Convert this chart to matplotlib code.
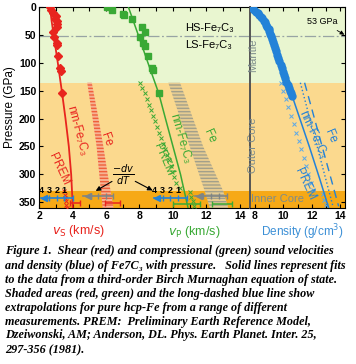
import matplotlib.pyplot as plt
from matplotlib.ticker import MultipleLocator

# --- colours -------------------------------------------------------------
RED = '#e8241e'
GREEN = '#3aa935'
BLUE = '#2382d8'
GRAY_TXT = '#7d8c8c'

# --- vs (red): measured points, fit, hcp-Fe band -------------------------
vs_p = [0, 6, 12, 17, 22, 25, 31, 37, 46, 55, 65, 69, 88, 110, 115, 155]
vs_val = [2.66, 2.72, 2.85, 3.0, 2.95, 3.06, 3.06, 3.1, 2.85, 2.9, 3.06, 3.1, 3.15, 3.25, 3.3, 3.37]
vs_fit_p = [0, 25, 50, 100, 155, 200, 250, 300, 360]
vs_fit = [2.65, 2.75, 2.87, 3.12, 3.38, 3.58, 3.78, 3.92, 4.02]
vs_fe_p = [136, 200, 250, 300, 360]
vs_fe_lo = [4.88, 5.2, 5.44, 5.6, 5.8]
vs_fe_hi = [5.15, 5.55, 5.84, 6.1, 6.45]
vs_prem_p = [330, 336, 342, 348, 354, 360]
vs_prem = [3.5, 3.53, 3.56, 3.6, 3.63, 3.66]

# --- vp (green) -----------------------------------------------------------
vp_p = [0, 6, 13, 15, 22, 37, 45, 55, 65, 71, 88, 110, 114, 155]
vp_val = [6.04, 6.34, 7.0, 7.1, 7.53, 8.13, 8.3, 8.03, 8.23, 8.3, 8.53, 8.77, 8.8, 9.16]
vp_fit_p = [0, 50, 100, 155, 200, 250, 300, 360]
vp_fit = [7.33, 7.92, 8.5, 9.15, 9.55, 10.0, 10.45, 10.9]
vp_fe_p = [136, 250, 330, 360]
vp_fe_lo = [9.72, 11.0, 11.9, 12.2]
vp_fe_hi = [10.42, 11.8, 13.0, 13.3]
vp_prem_p = [136, 145, 155, 165, 175, 185, 195, 205, 215, 225, 235, 245, 255,
             265, 275, 285, 295, 305, 315, 325, 332, 340, 348, 356]
vp_prem = [8.03, 8.16, 8.3, 8.44, 8.57, 8.7, 8.83, 8.95, 9.07, 9.19, 9.31, 9.42, 9.53,
           9.64, 9.75, 9.86, 9.97, 10.08, 10.2, 10.4, 11.03, 11.1, 11.17, 11.23]

# --- density (blue) -------------------------------------------------------
rho_p = [0, 3, 6, 9, 12, 15, 18, 21, 25, 28, 32, 36, 40, 44, 48, 53, 58, 63, 68, 74, 80, 86,
         92, 98, 104, 110, 116, 122, 128, 134, 140, 145, 150, 155, 160]
rho_val = [7.62, 7.78, 7.92, 8.06, 8.18, 8.3, 8.41, 8.5, 8.62, 8.7, 8.8, 8.88, 8.97, 9.02,
           9.08, 9.16, 9.23, 9.3, 9.35, 9.43, 9.5, 9.57, 9.64, 9.72, 9.8, 9.88, 9.96, 10.04,
           10.12, 10.2, 10.34, 10.42, 10.5, 10.57, 10.64]
rho_fit_p = [150, 167, 250, 309, 360]
rho_fit = [10.5, 10.72, 11.83, 12.58, 13.2]
rho_dot_p = [136, 357]
rho_dot = [11.2, 13.5]
rho_fe_p = [136, 357]
rho_fe = [11.5, 13.9]
rho_prem_p = [136, 150, 165, 180, 195, 210, 225, 240, 255, 270, 285, 300, 315, 328, 335, 345, 355]
rho_prem = [9.8, 9.98, 10.17, 10.36, 10.55, 10.73, 10.9, 11.08, 11.25, 11.43, 11.6, 11.77,
            11.95, 12.1, 12.78, 12.9, 13.02]

# --- -dv/dT scale bars and extrapolated error bars at the inner core -------
dvdt_vs = [2.12, 2.6, 3.06, 3.51, 4.05]
dvdt_vp = [8.87, 9.39, 9.82, 10.32, 10.82]
dvdt_labels = ['4', '3', '2', '1']
gray_vs = [4.65, 5.1, 5.55, 6.0, 6.44]
gray_vp = [11.31, 11.78, 12.25, 12.72, 13.2]
err_x = [4.15, 6.4, 10.8, 12.9]
err_w = [0.3, 0.45, 0.8, 0.6]
err_p = [351, 351, 352, 352]
err_col = [RED, RED, GREEN, GREEN]

caption = [
    "Figure 1.  Shear (red) and compressional (green) sound velocities",
    "and density (blue) of Fe7C\u2083 with pressure.   Solid lines represent fits",
    "to the data from a third-order Birch Murnaghan equation of state.",
    "Shaded areas (red, green) and the long-dashed blue line show",
    "extrapolations for pure hcp-Fe from a range of different",
    "measurements. PREM:  Preliminary Earth Reference Model,",
    "Dzeiwonski, AM; Anderson, DL. Phys. Earth Planet. Inter. 25,",
    "297-356 (1981).",
]

plt.rcParams['font.family'] = ['Liberation Sans', 'DejaVu Sans']

fig = plt.figure(figsize=(3.56, 3.64), dpi=100)
ax = fig.add_axes([0.1096, 0.4286, 0.5927, 0.553])
axd = fig.add_axes([0.7022, 0.4286, 0.2669, 0.553])

for a in (ax, axd):
    a.axhspan(0, 136, color='#e9f6d0', zorder=0, lw=0)
    a.axhspan(136, 330, color='#fbd98e', zorder=0, lw=0)
    a.axhspan(330, 360, color='#f6a917', zorder=0, lw=0)
    a.axhline(53, color='#98a4a4', lw=0.9, ls=(0, (9, 2, 1.5, 2)), zorder=1)
    a.set_ylim(360, 0)
    a.tick_params(direction='in', which='both', labelsize=7.5, length=3, width=0.8, pad=2)

# hcp-Fe bands
ax.fill_betweenx(vs_fe_p, vs_fe_lo, vs_fe_hi, facecolor='#f6b394', edgecolor='#f0603a',
                 hatch='-----', lw=0, zorder=2)
ax.fill_betweenx(vp_fe_p, vp_fe_lo, vp_fe_hi, facecolor='#e6cc92', edgecolor='#a3a08a',
                 hatch='-----', lw=0, zorder=2)

# PREM
ax.plot(vs_prem, vs_prem_p, 'x', color=RED, ms=3, mew=0.7, zorder=3)
ax.plot(vp_prem, vp_prem_p, 'x', color=GREEN, ms=3, mew=0.7, zorder=3)

# fits and data
ax.plot(vs_fit, vs_fit_p, color=RED, lw=1.3, zorder=4)
ax.plot(vp_fit, vp_fit_p, color=GREEN, lw=1.1, zorder=4)
ax.errorbar(vs_val, vs_p, xerr=0.07, fmt='D', color=RED, ms=4, lw=0.8, zorder=5)
ax.errorbar(vp_val, vp_p, xerr=0.12, fmt='s', color=GREEN, ms=4, lw=0.8, zorder=5)

# -dv/dT bars
for ticks in (dvdt_vs, dvdt_vp):
    ax.plot([ticks[0], ticks[-1]], [342, 342], color=BLUE, lw=1.2, zorder=6)
    ax.plot(ticks[1:], [342] * 4, '|', color=BLUE, ms=5, mew=1, zorder=6)
    ax.plot(ticks[0] + 0.15, 342, '<', color=BLUE, ms=4, zorder=6)
    for x, s in zip(ticks, dvdt_labels):
        ax.text(x, 336, s, ha='center', va='bottom', fontsize=6.5, fontweight='bold', zorder=6)
for ticks in (gray_vs, gray_vp):
    ax.plot([ticks[0], ticks[-1]], [339, 339], color='#7f8585', lw=1.2, zorder=6)
    ax.plot(ticks[1:], [339] * 4, '|', color='#7f8585', ms=5, mew=1, zorder=6)
    ax.plot(ticks[0] + 0.25, 339, '<', color='#7f8585', ms=4, zorder=6)
for x, w, p, c in zip(err_x, err_w, err_p, err_col):
    ax.errorbar(x, p, xerr=w, fmt='none', ecolor=c, lw=1.1, capsize=2, zorder=6)

ax.text(7.0, 300, r'$\frac{-dv}{dT}$', ha='center', va='center', fontsize=10)
ax.annotate('', xy=(5.24, 332), xytext=(6.5, 310),
            arrowprops=dict(arrowstyle='-|>', color='k', lw=0.8, mutation_scale=7))
ax.annotate('', xy=(8.93, 331), xytext=(7.6, 310),
            arrowprops=dict(arrowstyle='-|>', color='k', lw=0.8, mutation_scale=7))

# labels on left panel
ax.text(4.25, 222, 'nm-Fe\u2087C\u2083', color=RED, rotation=-75, fontsize=8.5, ha='center', va='center')
ax.text(6.0, 238, 'Fe', color=RED, rotation=-70, fontsize=8.5, ha='center', va='center')
ax.text(3.2, 290, 'PREM', color=RED, rotation=-65, fontsize=8.5, ha='center', va='center')
ax.text(10.45, 236, 'nm-Fe\u2087C\u2083', color=GREEN, rotation=-74, fontsize=8.5, ha='center', va='center')
ax.text(9.45, 274, 'PREM', color=GREEN, rotation=-67, fontsize=8.5, ha='center', va='center')
ax.text(12.2, 232, 'Fe', color=GREEN, rotation=-66, fontsize=8.5, ha='center', va='center')
ax.text(10.7, 38, 'HS-Fe\u2087C\u2083', fontsize=8, ha='left', va='center')
ax.text(10.7, 68, 'LS-Fe\u2087C\u2083', fontsize=8, ha='left', va='center')

ax.set_xlim(2, 14.6)
ax.xaxis.set_major_locator(MultipleLocator(2))
ax.xaxis.set_minor_locator(MultipleLocator(1))
ax.yaxis.set_major_locator(MultipleLocator(50))
ax.tick_params(top=True, right=False, which='both')
ax.set_ylabel('Pressure (GPa)', fontsize=8.5, labelpad=2)
for lab in ax.get_xticklabels() + ax.get_yticklabels():
    lab.set_fontweight('bold')
fig.text(78 / 356, 1 - 231 / 364, r'$v_\mathrm{S}$ (km/s)', color=RED, fontsize=9, ha='center', va='center')
fig.text(194 / 356, 1 - 232 / 364, r'$v_\mathrm{P}$ (km/s)', color=GREEN, fontsize=9, ha='center', va='center')

# density panel
axd.plot(rho_prem, rho_prem_p, 'x', color='#5aa8e8', ms=3, mew=0.7, zorder=3)
axd.plot(rho_dot, rho_dot_p, ':', color=BLUE, lw=1.0, zorder=4)
axd.plot(rho_fe, rho_fe_p, color=BLUE, lw=1.0, ls=(0, (6, 4)), zorder=4)
axd.plot(rho_fit, rho_fit_p, color=BLUE, lw=1.1, zorder=4)
axd.plot(rho_val, rho_p, 'o', color=BLUE, ms=5, zorder=5)
axd.text(12.05, 229, 'nm-Fe\u2087C\u2083', color=BLUE, rotation=-65, fontsize=8.5, ha='center', va='center')
axd.text(13.3, 232, 'Fe', color=BLUE, rotation=-67, fontsize=8.5, ha='center', va='center')
axd.text(11.5, 317, 'PREM', color=BLUE, rotation=-65, fontsize=8.5, ha='center', va='center')
axd.text(7.85, 86, 'Mantle', color=GRAY_TXT, rotation=90, fontsize=8, ha='center', va='center')
axd.text(7.85, 247, 'Outer Core', color=GRAY_TXT, rotation=90, fontsize=8, ha='center', va='center')
axd.text(7.7, 344, 'Inner Core', color=GRAY_TXT, fontsize=8, ha='left', va='center')
axd.annotate('53 GPa', xy=(14.3, 50), xytext=(12.75, 27), fontsize=6.5, ha='center', va='center',
             arrowprops=dict(arrowstyle='-|>', color='k', lw=0.6, mutation_scale=6,
                             shrinkA=2, shrinkB=0))
axd.set_xlim(7.647, 14.35)
axd.xaxis.set_major_locator(MultipleLocator(2))
axd.xaxis.set_minor_locator(MultipleLocator(1))
axd.yaxis.set_major_locator(MultipleLocator(50))
axd.tick_params(left=False, right=True, top=True, labelleft=False, which='both')
for lab in axd.get_xticklabels():
    lab.set_fontweight('bold')
axd.spines['left'].set_color('#555555')
axd.spines['left'].set_linewidth(1.4)
ax.spines['right'].set_visible(False)
fig.text(302 / 356, 1 - 232 / 364, r'Density (g/cm$^3$)', color='#3b8fd6', fontsize=8.5, ha='center', va='center')

# caption
cap_y = [251, 266, 280, 294, 308, 322, 335, 350]
for line, y in zip(caption, cap_y):
    fig.text(5 / 356, 1 - y / 364, line, family=['Liberation Serif', 'DejaVu Serif'],
             style='italic', weight='bold', fontsize=8.7, ha='left', va='center')

fig.savefig('out.png', dpi=100)
